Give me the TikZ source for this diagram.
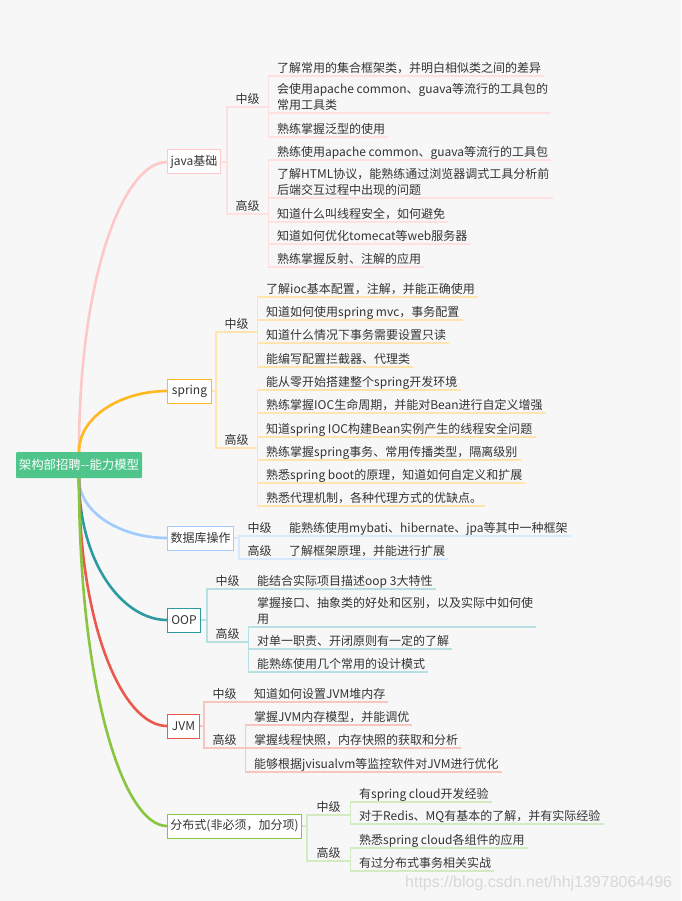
\documentclass[tikz,border=0pt]{standalone}
\usepackage{fontspec}
\setmainfont{Noto Sans CJK SC}
\newfontfamily\wmfont{Liberation Sans}
\usetikzlibrary{calc}
\definecolor{bg}{HTML}{F7F7F7}
\definecolor{txt}{HTML}{333333}
\definecolor{rootc}{HTML}{4FC48B}
\definecolor{wmc}{HTML}{D8D8D8}
\definecolor{pinkM}{HTML}{FFC8C8}\definecolor{pinkL}{HTML}{FFE0E0}
\definecolor{orM}{HTML}{FFB81F}\definecolor{orL}{HTML}{FFE4AE}
\definecolor{blM}{HTML}{9FCBFF}\definecolor{blL}{HTML}{D9E9FD}
\definecolor{tlM}{HTML}{2B9BA1}\definecolor{tlL}{HTML}{B8E0E2}
\definecolor{rdM}{HTML}{E9594C}\definecolor{rdL}{HTML}{F8C6C1}
\definecolor{grM}{HTML}{88C540}\definecolor{grL}{HTML}{D4EBC1}
\newcommand\myL{\hspace*{9pt}}
\newcommand\myR{\hspace*{3pt}}
\newcommand\mytwo[2]{\begin{tabular}[b]{@{}l@{}}\myL#1\myR\\\myL#2\end{tabular}}
\newcommand\mcurve[3]{\draw[branch=#3] (#1) .. controls ($(#1)!0.6!(#1|-#2)$) and ($(#1|-#2)!0.5!(#2)$) .. (#2);}
\tikzset{
  every node/.style={font=\fontsize{12}{16}\selectfont, text=txt},
  rootbox/.style={fill=rootc, text=white, minimum width=126pt, minimum height=26pt, inner sep=0pt, rounded corners=1pt, font=\fontsize{12.4}{16}\selectfont},
  mainbox/.style={draw=#1, fill=white, line width=1pt, minimum height=24pt, inner xsep=0pt, inner ysep=0pt, anchor=west},
  lvl/.style={anchor=south west, minimum width=41pt, inner xsep=0pt, inner ysep=3.4pt, text depth=0pt},
  leaf/.style={anchor=south west, inner xsep=0pt, inner ysep=3.4pt, text depth=0pt},
  branch/.style={line width=2.6pt, draw=#1},
  sub/.style={line width=1.3pt, draw=#1},
}
\begin{document}
\begin{tikzpicture}[x=1pt,y=-1pt]
\fill[bg] (0,0) rectangle (681,901);
\useasboundingbox (0,0) rectangle (681,901);

% root
\node[rootbox] (root) at (79,465) {架构部招聘-{}-能力模型};

% main boxes
\node[mainbox=pinkM, minimum width=53pt] (java) at (167,162) {java基础};
\node[mainbox=orM, minimum width=44pt] (spring) at (167,391) {spring};
\node[mainbox=blM, minimum width=66pt] (db) at (167,538) {数据库操作};
\node[mainbox=tlM, minimum width=33pt] (oop) at (167,620) {OOP};
\node[mainbox=rdM, minimum width=32pt] (jvm) at (167,726) {JVM};
\node[mainbox=grM, minimum width=134pt] (dist) at (167,826) {分布式(非必须，加分项)};

% main curves
\mcurve{root.north}{java.west}{pinkM}
\mcurve{root.north}{spring.west}{orM}
\mcurve{root.south}{db.west}{blM}
\mcurve{root.south}{oop.west}{tlM}
\mcurve{root.south}{jvm.west}{rdM}
\mcurve{root.south}{dist.west}{grM}

% ---------- java ----------
\node[lvl] (jz) at (227,107) {中级};
\node[lvl] (jg) at (227,214) {高级};
\node[leaf] (j1) at (268,76) {\myL 了解常用的集合框架类，并明白相似类之间的差异\myR};
\node[leaf] (j2) at (268,113) {\mytwo{会使用apache common、guava等流行的工具包的}{常用工具类}};
\node[leaf] (j3) at (268,137) {\myL 熟练掌握泛型的使用\myR};
\node[leaf] (j4) at (268,160) {\myL 熟练使用apache common、guava等流行的工具包\myR};
\node[leaf] (j5) at (268,198) {\mytwo{了解HTML协议，能熟练通过浏览器调式工具分析前}{后端交互过程中出现的问题}};
\node[leaf] (j6) at (268,222) {\myL 知道什么叫线程安全，如何避免\myR};
\node[leaf] (j7) at (268,244) {\myL 知道如何优化tomecat等web服务器\myR};
\node[leaf] (j8) at (268,267) {\myL 熟练掌握反射、注解的应用\myR};
\draw[sub=pinkL] (java.east) -| (jz.south west) -- (jz.south east);
\draw[sub=pinkL] (java.east) -| (jg.south west) -- (jg.south east);
\foreach \n in {j1,j2,j3}
  \draw[sub=pinkL] (jz.south east) |- (\n.south west) -- (\n.south east);
\foreach \n in {j4,j5,j6,j7,j8}
  \draw[sub=pinkL] (jg.south east) |- (\n.south west) -- (\n.south east);

% ---------- spring ----------
\node[lvl] (sz) at (216,332) {中级};
\node[lvl] (sg) at (216,448) {高级};
\node[leaf] (s1) at (257,297) {\myL 了解ioc基本配置，注解，并能正确使用\myR};
\node[leaf] (s2) at (257,320) {\myL 知道如何使用spring mvc，事务配置\myR};
\node[leaf] (s3) at (257,343) {\myL 知道什么情况下事务需要设置只读\myR};
\node[leaf] (s4) at (257,367) {\myL 能编写配置拦截器、代理类\myR};
\node[leaf] (s5) at (257,390) {\myL 能从零开始搭建整个spring开发环境\myR};
\node[leaf] (s6) at (257,413) {\myL 熟练掌握IOC生命周期，并能对Bean进行自定义增强\myR};
\node[leaf] (s7) at (257,437) {\myL 知道spring IOC构建Bean实例产生的线程安全问题\myR};
\node[leaf] (s8) at (257,460) {\myL 熟练掌握spring事务、常用传播类型，隔离级别\myR};
\node[leaf] (s9) at (257,483) {\myL 熟悉spring boot的原理，知道如何自定义和扩展\myR};
\node[leaf] (s10) at (257,506) {\myL 熟悉代理机制，各种代理方式的优缺点。\myR};
\draw[sub=orL] (spring.east) -| (sz.south west) -- (sz.south east);
\draw[sub=orL] (spring.east) -| (sg.south west) -- (sg.south east);
\foreach \n in {s1,s2,s3,s4}
  \draw[sub=orL] (sz.south east) |- (\n.south west) -- (\n.south east);
\foreach \n in {s5,s6,s7,s8,s9,s10}
  \draw[sub=orL] (sg.south east) |- (\n.south west) -- (\n.south east);

% ---------- database ----------
\node[lvl] (dz) at (239,536) {中级};
\node[lvl] (dg) at (239,559) {高级};
\node[leaf] (d1) at (280,536) {\myL 能熟练使用mybati、hibernate、jpa等其中一种框架\myR};
\node[leaf] (d2) at (280,559) {\myL 了解框架原理，并能进行扩展\myR};
\draw[sub=blL] (db.east) -| (dz.south west) -- (dz.south east);
\draw[sub=blL] (db.east) -| (dg.south west) -- (dg.south east);
\draw[sub=blL] (dz.south east) -- (d1.south west) -- (d1.south east);
\draw[sub=blL] (dg.south east) -- (d2.south west) -- (d2.south east);

% ---------- OOP ----------
\node[lvl] (oz) at (207,589) {中级};
\node[lvl] (og) at (207,642) {高级};
\node[leaf] (o1) at (248,589) {\myL 能结合实际项目描述oop 3大特性\myR};
\node[leaf] (o2) at (248,627) {\mytwo{掌握接口、抽象类的好处和区别，以及实际中如何使}{用}};
\node[leaf] (o3) at (248,649) {\myL 对单一职责、开闭原则有一定的了解\myR};
\node[leaf] (o4) at (248,672) {\myL 能熟练使用几个常用的设计模式\myR};
\draw[sub=tlL] (oop.east) -| (oz.south west) -- (oz.south east);
\draw[sub=tlL] (oop.east) -| (og.south west) -- (og.south east);
\draw[sub=tlL] (oz.south east) -- (o1.south west) -- (o1.south east);
\foreach \n in {o2,o3,o4}
  \draw[sub=tlL] (og.south east) |- (\n.south west) -- (\n.south east);

% ---------- JVM ----------
\node[lvl] (vz) at (204,702) {中级};
\node[lvl] (vg) at (204,748) {高级};
\node[leaf] (v1) at (245,702) {\myL 知道如何设置JVM堆内存\myR};
\node[leaf] (v2) at (245,725) {\myL 掌握JVM内存模型，并能调优\myR};
\node[leaf] (v3) at (245,748) {\myL 掌握线程快照，内存快照的获取和分析\myR};
\node[leaf] (v4) at (245,772) {\myL 能够根据jvisualvm等监控软件对JVM进行优化\myR};
\draw[sub=rdL] (jvm.east) -| (vz.south west) -- (vz.south east);
\draw[sub=rdL] (jvm.east) -| (vg.south west) -- (vg.south east);
\draw[sub=rdL] (vz.south east) -- (v1.south west) -- (v1.south east);
\foreach \n in {v2,v3,v4}
  \draw[sub=rdL] (vg.south east) |- (\n.south west) -- (\n.south east);

% ---------- distributed ----------
\node[lvl, minimum width=43pt] (fz) at (307,815) {中级};
\node[lvl, minimum width=43pt] (fg) at (307,861) {高级};
\node[leaf] (f1) at (350,802) {\myL 有spring cloud开发经验\myR};
\node[leaf] (f2) at (350,824) {\myL 对于Redis、MQ有基本的了解，并有实际经验\myR};
\node[leaf] (f3) at (350,848) {\myL 熟悉spring cloud各组件的应用\myR};
\node[leaf] (f4) at (350,871) {\myL 有过分布式事务相关实战\myR};
\draw[sub=grL] (dist.east) -| (fz.south west) -- (fz.south east);
\draw[sub=grL] (dist.east) -| (fg.south west) -- (fg.south east);
\foreach \n in {f1,f2}
  \draw[sub=grL] (fz.south east) |- (\n.south west) -- (\n.south east);
\foreach \n in {f3,f4}
  \draw[sub=grL] (fg.south east) |- (\n.south west) -- (\n.south east);

% watermark
\node[font=\wmfont\fontsize{16}{18}\selectfont, text=wmc, anchor=west, inner sep=0pt] (wm) at (405,883) {https://blog.csdn.net/hhj13978064496};
\end{tikzpicture}
\end{document}
